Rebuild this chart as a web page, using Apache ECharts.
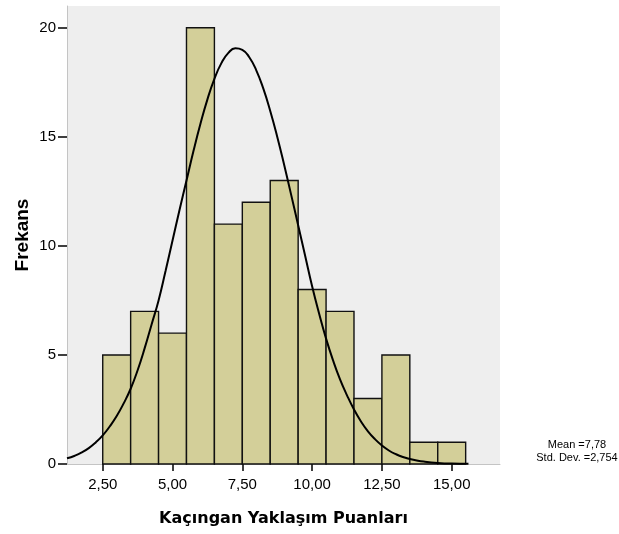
<!DOCTYPE html>
<html>
<head>
<meta charset="utf-8">
<script src="https://cdn.jsdelivr.net/npm/echarts@6/dist/echarts.min.js"></script>
<style>
html,body{margin:0;padding:0;background:#fff;}
#chart{width:619px;height:534px;}
</style>
</head>
<body>
<div id="chart"></div>
<script>
// Histogram bins (edges) and frequencies
var binStarts = [2.5, 3.5, 4.5, 5.5, 6.5, 7.5, 8.5, 9.5, 10.5, 11.5, 12.5, 13.5, 14.5];
var binEnds   = [3.5, 4.5, 5.5, 6.5, 7.5, 8.5, 9.5, 10.5, 11.5, 12.5, 13.5, 14.5, 15.5];
var counts    = [5, 7, 6, 20, 11, 12, 13, 8, 7, 3, 5, 1, 1];

// Normal curve
var curveX = [1.22, 1.5, 1.75, 2.0, 2.25, 2.5, 2.75, 3.0, 3.25, 3.5, 3.75, 4.0, 4.25, 4.5, 4.75, 5.0, 5.25, 5.5, 5.75, 6.0, 6.25, 6.5, 6.75, 7.0, 7.25, 7.5, 7.75, 8.0, 8.25, 8.5, 8.75, 9.0, 9.25, 9.5, 9.75, 10.0, 10.25, 10.5, 10.75, 11.0, 11.25, 11.5, 11.75, 12.0, 12.25, 12.5, 12.75, 13.0, 13.25, 13.5, 13.75, 14.0, 14.5, 15.0, 15.6];
var curveY = [0.26, 0.38, 0.53, 0.73, 0.99, 1.31, 1.72, 2.2, 2.78, 3.45, 4.3, 5.3, 6.4, 7.5, 8.85, 10.25, 11.65, 13.0, 14.35, 15.6, 16.72, 17.66, 18.38, 18.85, 19.06, 18.99, 18.65, 18.05, 17.22, 16.19, 15.01, 13.71, 12.34, 10.95, 9.55, 8.15, 6.9, 5.75, 4.75, 3.88, 3.15, 2.5, 1.95, 1.5, 1.14, 0.85, 0.62, 0.45, 0.32, 0.23, 0.16, 0.11, 0.05, 0.02, 0.01];

var xTicks = [2.5, 5, 7.5, 10, 12.5, 15];
var yTicks = [0, 5, 10, 15, 20];
var statLines = ['Mean =7,78', 'Std. Dev. =2,754'];
var xTitle = 'Kaçıngan Yaklaşım Puanları';
var yTitle = 'Frekans';

var barData = binStarts.map(function (s, i) { return [s, binEnds[i], counts[i]]; });
var curveData = curveX.map(function (x, i) { return [x, curveY[i]]; });

var chart = echarts.init(document.getElementById('chart'), null, {renderer: 'canvas'});
chart.setOption({
  backgroundColor: '#ffffff',
  animation: false,
  grid: {
    left: 67, right: 119, top: 6, bottom: 70,
    containLabel: false,
    outerBoundsMode: 'none',
    show: true, backgroundColor: '#eeeeee', borderWidth: 0
  },
  xAxis: {
    type: 'value',
    min: 1.22, max: 16.73,
    name: xTitle,
    nameLocation: 'middle',
    nameGap: 47,
    nameMoveOverlap: false,
    nameTextStyle: {fontFamily: 'DejaVu Sans', fontWeight: 'bold', fontSize: 16, color: '#000'},
    axisLine: {show: true, lineStyle: {color: '#c4c4c4', width: 1}},
    axisTick: {show: true, customValues: xTicks, length: 7, lineStyle: {color: '#000', width: 1.5}},
    axisLabel: {
      customValues: xTicks, margin: 13,
      fontFamily: 'Liberation Sans', fontSize: 15, color: '#000',
      formatter: function (v) { return v.toFixed(2).replace('.', ','); }
    },
    splitLine: {show: false}
  },
  yAxis: {
    type: 'value',
    min: 0, max: 21,
    name: yTitle,
    nameLocation: 'middle',
    nameGap: 35,
    nameMoveOverlap: false,
    nameTextStyle: {fontFamily: 'Liberation Sans', fontWeight: 'bold', fontSize: 19, color: '#000'},
    axisLine: {show: true, lineStyle: {color: '#c4c4c4', width: 1}},
    axisTick: {show: true, customValues: yTicks, length: 9, lineStyle: {color: '#000', width: 1.5}},
    axisLabel: {
      customValues: yTicks, margin: 11,
      fontFamily: 'Liberation Sans', fontSize: 15, color: '#000'
    },
    splitLine: {show: false}
  },
  graphic: [
    {type: 'text', x: 577, y: 445, style: {text: statLines[0], fill: '#000', font: '11px "Liberation Sans"', textAlign: 'center', textVerticalAlign: 'middle'}},
    {type: 'text', x: 577, y: 458, style: {text: statLines[1], fill: '#000', font: '11px "Liberation Sans"', textAlign: 'center', textVerticalAlign: 'middle'}}
  ],
  series: [
    {
      type: 'custom',
      z: 2,
      data: barData,
      encode: {x: [0, 1], y: 2},
      renderItem: function (params, api) {
        var p0 = api.coord([api.value(0), api.value(2)]);
        var p1 = api.coord([api.value(1), 0]);
        return {
          type: 'rect',
          shape: {x: p0[0], y: p0[1], width: p1[0] - p0[0], height: p1[1] - p0[1]},
          style: {fill: '#d3cf99', stroke: '#111111', lineWidth: 1.4}
        };
      }
    },
    {
      type: 'line',
      z: 3,
      data: curveData,
      smooth: true,
      symbol: 'none',
      lineStyle: {color: '#000', width: 2}
    }
  ]
});
</script>
</body>
</html>
